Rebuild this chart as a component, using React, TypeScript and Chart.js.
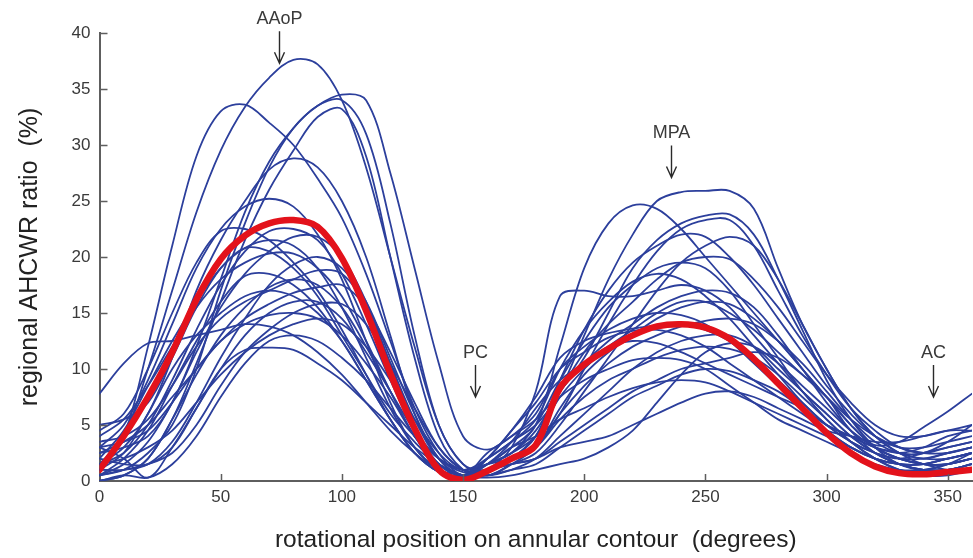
import React, { useEffect, useRef } from 'react';
import { Chart, registerables } from 'chart.js';

Chart.register(...registerables);

// rotational position (degrees)
const degrees = [0, 10, 20, 30, 40, 50, 60, 70, 80, 90, 100, 110, 120, 130, 140, 150, 160, 170, 180, 190, 200, 210, 220, 230, 240, 250, 260, 270, 280, 290, 300, 310, 320, 330, 340, 350, 360];

// individual subjects (regional AHCWR ratio, %)
const curve01 = [1.5, 4, 10, 17, 24, 29.5, 33.4, 36, 37.6, 37.2, 34, 28, 20, 12, 5, 1.5, 1, 2, 4, 8, 13, 18, 22, 25, 25.8, 25.9, 25.9, 24.3, 19, 14, 10, 6.5, 4, 2.5, 1.5, 1.5, 2];
const curve02 = [1, 4, 12, 21, 29, 33, 33.6, 32, 30, 27, 23.5, 18.5, 12.5, 6.5, 2.5, 0.5, 1.5, 3, 5, 12, 19, 23, 24.6, 24.3, 22.5, 20, 17.5, 15, 12.5, 10, 7.5, 5, 3, 2, 1.5, 1.5, 2];
const curve03 = [0.5, 1, 2.5, 5, 10, 17, 23, 28, 31.5, 33.5, 34.5, 34, 27.5, 19, 10.5, 4, 2.8, 4, 5.5, 8, 11, 15, 19, 21.5, 23, 23.7, 23.8, 22, 18, 13.5, 9, 5.5, 3, 1.5, 1, 1.5, 2.5];
const curve04 = [2.5, 3, 4, 7, 12, 18, 24, 28.5, 31.5, 33.5, 34, 31, 23, 13, 5, 1.5, 0.5, 1.5, 3, 6, 10, 14, 17.5, 20.5, 22.5, 23.3, 23.3, 21, 17, 13, 9.5, 6.5, 4.5, 3, 2.5, 3, 3.5];
const curve05 = [0, 0.5, 2, 5.5, 10.5, 16, 21.5, 26, 29.5, 32.5, 33.2, 29, 20, 11, 4, 1, 0.5, 1.5, 2.5, 5, 8, 11, 14, 17, 19.5, 21, 21.8, 21, 18, 14, 10, 6.5, 4, 2.5, 2, 2, 2.5];
const curve06 = [1.5, 3, 6, 11, 17, 21.5, 25, 27.8, 28.8, 28, 25, 20, 13, 6, 2, 0.5, 1, 2, 4, 9, 13.5, 17, 19.5, 21, 22, 21.8, 20, 17.5, 14.5, 11.5, 8.5, 6, 4, 3, 3, 3.5, 4];
const curve07 = [3, 5, 9, 14, 19, 22.5, 24.5, 25.2, 24.5, 22, 18, 12.5, 7, 3, 1, 0.3, 1, 3, 8, 16.5, 17, 16.5, 16.5, 17, 17.5, 17, 15.5, 13, 10.5, 8, 6, 4, 2.5, 1.5, 1, 1, 1.5];
const curve08 = [4.5, 6, 10, 15, 19.5, 22.3, 22.5, 21.5, 19.5, 17, 13.5, 9.5, 5.5, 2.5, 0.8, 0.2, 0.8, 2, 4, 8, 11.5, 14, 16, 18, 19.5, 20, 19.8, 18, 15.5, 12.5, 9.5, 7, 5, 4, 4, 4.5, 5];
const curve09 = [0.5, 1.5, 3.5, 7, 11.5, 15.5, 18.5, 20.5, 21.8, 21.8, 20, 16, 10.5, 5, 1.5, 0.5, 1.5, 2.5, 5, 9, 12.5, 15.5, 17.5, 19, 19.5, 19, 17, 14, 11, 8, 5.5, 3.5, 2, 1, 0.8, 1, 1.5];
const curve10 = [2, 4.5, 8.5, 12.5, 16, 19, 20.8, 21.5, 21, 19, 15.5, 11, 6.5, 3, 1, 0.5, 2, 3.5, 5.5, 10, 13.5, 16, 17.8, 18.5, 18, 16.5, 14.5, 12, 9.5, 7, 5, 3.5, 2.5, 2, 2.5, 3, 3.5];
const curve11 = [5, 5.5, 7, 11, 15.5, 19, 20.8, 20.5, 19, 16.5, 13, 9.5, 6, 3.5, 1.5, 0.5, 1.5, 2.5, 4, 7.5, 10, 12, 13.5, 15, 16, 16, 15, 13.5, 11.5, 9.5, 7.5, 5.5, 4, 3, 2.5, 2.5, 3];
const curve12 = [1, 1, 1.5, 3.5, 7, 11, 14.5, 17.5, 19.3, 20, 19, 16, 11, 6, 2, 0.5, 2.5, 4, 6, 10, 12, 13.5, 14.5, 15, 14.8, 14, 12.5, 10.5, 8.5, 6.5, 4.5, 3, 2, 1.5, 1.5, 2, 2.5];
const curve13 = [3.5, 4, 5.5, 8.5, 12, 14.5, 16, 17, 18, 18.8, 18.5, 15.5, 10.5, 5.5, 2, 1, 1.5, 2, 3, 6, 8.5, 10.5, 12, 13, 13.8, 14.3, 14.5, 14, 12.5, 10.5, 8, 5.5, 3.5, 2.5, 2.5, 3.5, 5];
const curve14 = [0, 0.5, 2, 5.5, 9.5, 13, 15.5, 17.3, 18, 17.5, 15.5, 12, 8, 4, 1.5, 0.5, 2, 4.5, 7, 10, 11.5, 12.8, 13.4, 13.5, 13, 12, 10.5, 9, 7.5, 6, 4.5, 3, 2, 1.5, 1.5, 2, 2.5];
const curve15 = [2.5, 3.5, 5, 7.5, 10, 12.5, 14.5, 15.8, 16.8, 17.3, 17.5, 15.5, 11.5, 7, 3, 1, 0.5, 1, 2, 4, 6, 8, 10, 11.5, 12.5, 13, 13, 12, 10, 8, 6, 4, 2.5, 1.5, 1, 1, 1.5];
const curve16 = [1, 2.5, 6, 10, 13, 15, 16.5, 17, 16.5, 15, 12.5, 9, 5.5, 2.5, 0.8, 0.3, 1.5, 3.5, 6.5, 9, 10.5, 12, 12.5, 12.3, 11.5, 10.5, 9.5, 8.5, 7.5, 6.5, 5, 4, 3, 2.5, 2, 2.5, 3];
const curve17 = [0.5, 1, 1.5, 2.5, 5, 8.5, 11.5, 13.5, 15, 15.8, 15.8, 14, 10.5, 6.5, 3, 1, 1, 2, 3, 5.5, 7.5, 9, 10, 11, 11.7, 12, 11.8, 11, 9.5, 7.5, 5.5, 3.5, 2, 1, 0.5, 0.5, 1];
const curve18 = [3, 3.5, 4.5, 7, 10, 12.5, 14, 14.8, 15, 14.5, 13, 10.5, 7.5, 4, 1.5, 0.5, 1, 1.5, 2, 3.5, 5, 6.5, 8, 9, 10, 10.5, 11, 11.5, 11, 9.5, 7.5, 4.5, 3.2, 3.5, 4.8, 6.2, 7.8];
const curve19 = [1.5, 2, 3, 4.5, 7, 9.5, 11.5, 13, 14, 14.5, 14, 12, 9, 5.5, 2.5, 1, 2, 3.5, 5, 7.5, 9, 10, 10.8, 11, 10.8, 10, 8.5, 7, 5.5, 4.5, 3.5, 2.5, 1.5, 1, 1, 1.5, 2];
const curve20 = [7.8, 10.5, 12.3, 12.5, 13, 13.5, 14, 13.8, 13, 11.5, 9.5, 7, 4.5, 2.5, 1, 0.5, 0.5, 1, 1.5, 3, 4.5, 6, 7.5, 8.5, 9.5, 10, 9.8, 9, 8, 6.5, 5, 4, 3, 2.5, 3, 4, 4.5];
const curve21 = [0, 0.5, 0.3, 1.5, 4, 7.5, 10.5, 12.5, 13, 12.5, 11, 9, 6.5, 4, 2, 1, 1.5, 3, 4, 5.5, 6.5, 7.5, 8.3, 8.8, 9, 8.8, 8, 7, 6, 5, 4, 3, 2, 1.5, 1.5, 2, 2.5];
const curve22 = [2, 1.5, 1.5, 3, 6.5, 10, 11.7, 11.9, 11.7, 10.5, 9, 7, 5, 3, 1.5, 0.5, 0.3, 0.5, 1, 1.5, 2, 3, 4.5, 7, 9.5, 11.5, 12.3, 12, 10.5, 8.5, 6.5, 4.5, 3, 2, 1.5, 1.5, 2];
const curve23 = [3, 2, 0.3, 3, 6.5, 10, 13, 15, 16, 16, 14.5, 11.5, 8, 4.5, 2, 0.8, 1, 1.5, 2, 3, 3.5, 4, 5, 6, 7, 7.8, 8, 7.5, 6.5, 5.5, 4.5, 4, 3.5, 3.5, 4, 4.5, 4.5];
const curve24 = [4, 5.5, 8.5, 12, 15.5, 18, 19.5, 20.3, 20.3, 19, 16.5, 12.5, 8, 4, 1.5, 0.5, 1, 2, 3, 6.5, 9.5, 11.5, 13, 14.5, 15.5, 16, 15.8, 14.5, 12.5, 10, 7.5, 5, 3, 2, 1.5, 1, 1];
const curve25 = [1.5, 2.5, 5, 9, 13.5, 17.5, 20.5, 22.3, 22.5, 21.5, 18.5, 14, 9, 4.5, 1.5, 0.5, 1.5, 2.5, 4.5, 8, 10.5, 12.5, 14, 15.5, 16.5, 17, 16.8, 15.5, 13, 10, 7, 4.5, 2.5, 1.5, 1, 1, 1.5];
const curve26 = [0.5, 2, 4.5, 8.5, 12.5, 16, 18.3, 18.5, 17.5, 15.5, 12.5, 9, 5.5, 2.5, 0.8, 0.2, 2, 4.5, 7.5, 11, 12.5, 13.2, 13.6, 13.9, 14, 13.5, 12.5, 11, 9, 7, 5, 3.5, 2.5, 2, 2, 2.5, 3];

// group mean
const meanCurve = [1.0, 4.0, 7.5, 11.5, 16.2, 19.8, 21.9, 23.0, 23.3, 22.7, 19.9, 15.2, 9.6, 4.7, 1.0, 0.1, 0.9, 2.0, 3.2, 8.3, 10.4, 11.8, 13.0, 13.8, 14.0, 13.7, 12.7, 10.9, 8.7, 6.5, 4.3, 2.5, 1.3, 0.7, 0.6, 0.8, 1.0];

const blueCurves = [curve01, curve02, curve03, curve04, curve05, curve06, curve07, curve08, curve09, curve10, curve11, curve12, curve13, curve14, curve15, curve16, curve17, curve18, curve19, curve20, curve21, curve22, curve23, curve24, curve25, curve26];

const xTicks = [0, 50, 100, 150, 200, 250, 300, 350];
const yTicks = [0, 5, 10, 15, 20, 25, 30, 35, 40];

// landmark annotations (arrow tip position in data units)
const landmarkLabels = ['AAoP', 'MPA', 'PC', 'AC'];
const landmarkX = [74, 236, 155, 344];
const landmarkTipY = [37.3, 27.1, 7.5, 7.5];

const FONT = '"Liberation Sans", Arial, Helvetica, sans-serif';
const TEXT = '#3a3a3a';
const AXIS = '#5e5e5e';
const BLUE = '#2c3f9c';
const RED = '#e3121b';

export default function App() {
  const canvasRef = useRef<HTMLCanvasElement>(null);

  useEffect(() => {
    document.body.style.margin = '0';
    const canvas = canvasRef.current;
    if (!canvas) return;

    const toPoints = (vals: number[]) => vals.map((v, i) => ({ x: degrees[i], y: v }));

    const datasets: any[] = [
      {
        data: toPoints(meanCurve),
        borderColor: RED,
        borderWidth: 6.5,
        pointRadius: 0,
        fill: false,
        tension: 0.35,
      },
      ...blueCurves.map((c) => ({
        data: toPoints(c),
        borderColor: BLUE,
        borderWidth: 1.8,
        pointRadius: 0,
        fill: false,
        tension: 0.35,
      })),
    ];

    const decorations = {
      id: 'decorations',
      afterDraw(chart: any) {
        const { ctx, scales, chartArea } = chart;
        const xs = scales.x;
        const ys = scales.y;
        ctx.save();
        ctx.strokeStyle = AXIS;
        ctx.lineWidth = 1.5;
        ctx.beginPath();
        xs.ticks.forEach((t: any) => {
          if (t.value === 0) return;
          const px = Math.round(xs.getPixelForValue(t.value)) + 0.5;
          ctx.moveTo(px, chartArea.bottom);
          ctx.lineTo(px, chartArea.bottom - 7);
        });
        ys.ticks.forEach((t: any) => {
          if (t.value === 0) return;
          const py = Math.round(ys.getPixelForValue(t.value)) + 0.5;
          ctx.moveTo(chartArea.left, py);
          ctx.lineTo(chartArea.left + 8, py);
        });
        ctx.stroke();

        ctx.strokeStyle = '#2a2a2a';
        ctx.fillStyle = TEXT;
        ctx.lineWidth = 1.4;
        ctx.font = '18px ' + FONT;
        ctx.textAlign = 'center';
        ctx.textBaseline = 'middle';
        landmarkLabels.forEach((label, i) => {
          const px = Math.round(xs.getPixelForValue(landmarkX[i])) + 0.5;
          const tip = ys.getPixelForValue(landmarkTipY[i]);
          const top = tip - 32;
          ctx.beginPath();
          ctx.moveTo(px, top);
          ctx.lineTo(px, tip);
          ctx.moveTo(px - 5, tip - 11);
          ctx.lineTo(px, tip);
          ctx.lineTo(px + 5, tip - 11);
          ctx.stroke();
          ctx.fillText(label, px, top - 12);
        });
        ctx.restore();
      },
    };

    const chart = new Chart(canvas, {
      type: 'line',
      data: { datasets },
      options: {
        animation: false,
        responsive: false,
        devicePixelRatio: 1,
        events: [],
        layout: { padding: { top: 33, right: 1, left: 0, bottom: 0 } },
        plugins: {
          legend: { display: false },
          tooltip: { enabled: false },
          title: { display: false },
        },
        elements: {
          point: { radius: 0 },
          line: { borderJoinStyle: 'round', borderCapStyle: 'round', capBezierPoints: true },
        },
        scales: {
          x: {
            type: 'linear',
            min: 0,
            max: 360,
            afterFit: (s: any) => {
              s.height = 77;
            },
            afterBuildTicks: (s: any) => {
              s.ticks = xTicks.map((v) => ({ value: v }));
            },
            grid: { display: false, drawTicks: false },
            border: { display: true, color: AXIS, width: 2 },
            ticks: {
              color: TEXT,
              font: { family: FONT, size: 17 },
              padding: 6,
              autoSkip: false,
              maxRotation: 0,
            },
            title: {
              display: true,
              text: 'rotational position on annular contour  (degrees)',
              color: '#222',
              font: { family: FONT, size: 24.5 },
              padding: { top: 0, bottom: 3 },
            },
          },
          y: {
            type: 'linear',
            min: 0,
            max: 40,
            afterFit: (s: any) => {
              s.width = 99.5;
            },
            afterBuildTicks: (s: any) => {
              s.ticks = yTicks.map((v) => ({ value: v }));
            },
            grid: { display: false, drawTicks: false },
            border: { display: true, color: AXIS, width: 2 },
            ticks: {
              color: TEXT,
              font: { family: FONT, size: 17 },
              padding: 9,
              autoSkip: false,
            },
            title: {
              display: true,
              text: 'regional AHCWR ratio  (%)',
              color: '#222',
              font: { family: FONT, size: 25 },
              padding: { top: 15, bottom: 0 },
            },
          },
        },
      } as any,
      plugins: [decorations],
    });

    return () => chart.destroy();
  }, []);

  return (
    <div style={{ position: 'absolute', left: 0, top: 0, width: 973, height: 558, background: '#ffffff' }}>
      <canvas ref={canvasRef} width={973} height={558} style={{ display: 'block', width: 973, height: 558 }} />
    </div>
  );
}
